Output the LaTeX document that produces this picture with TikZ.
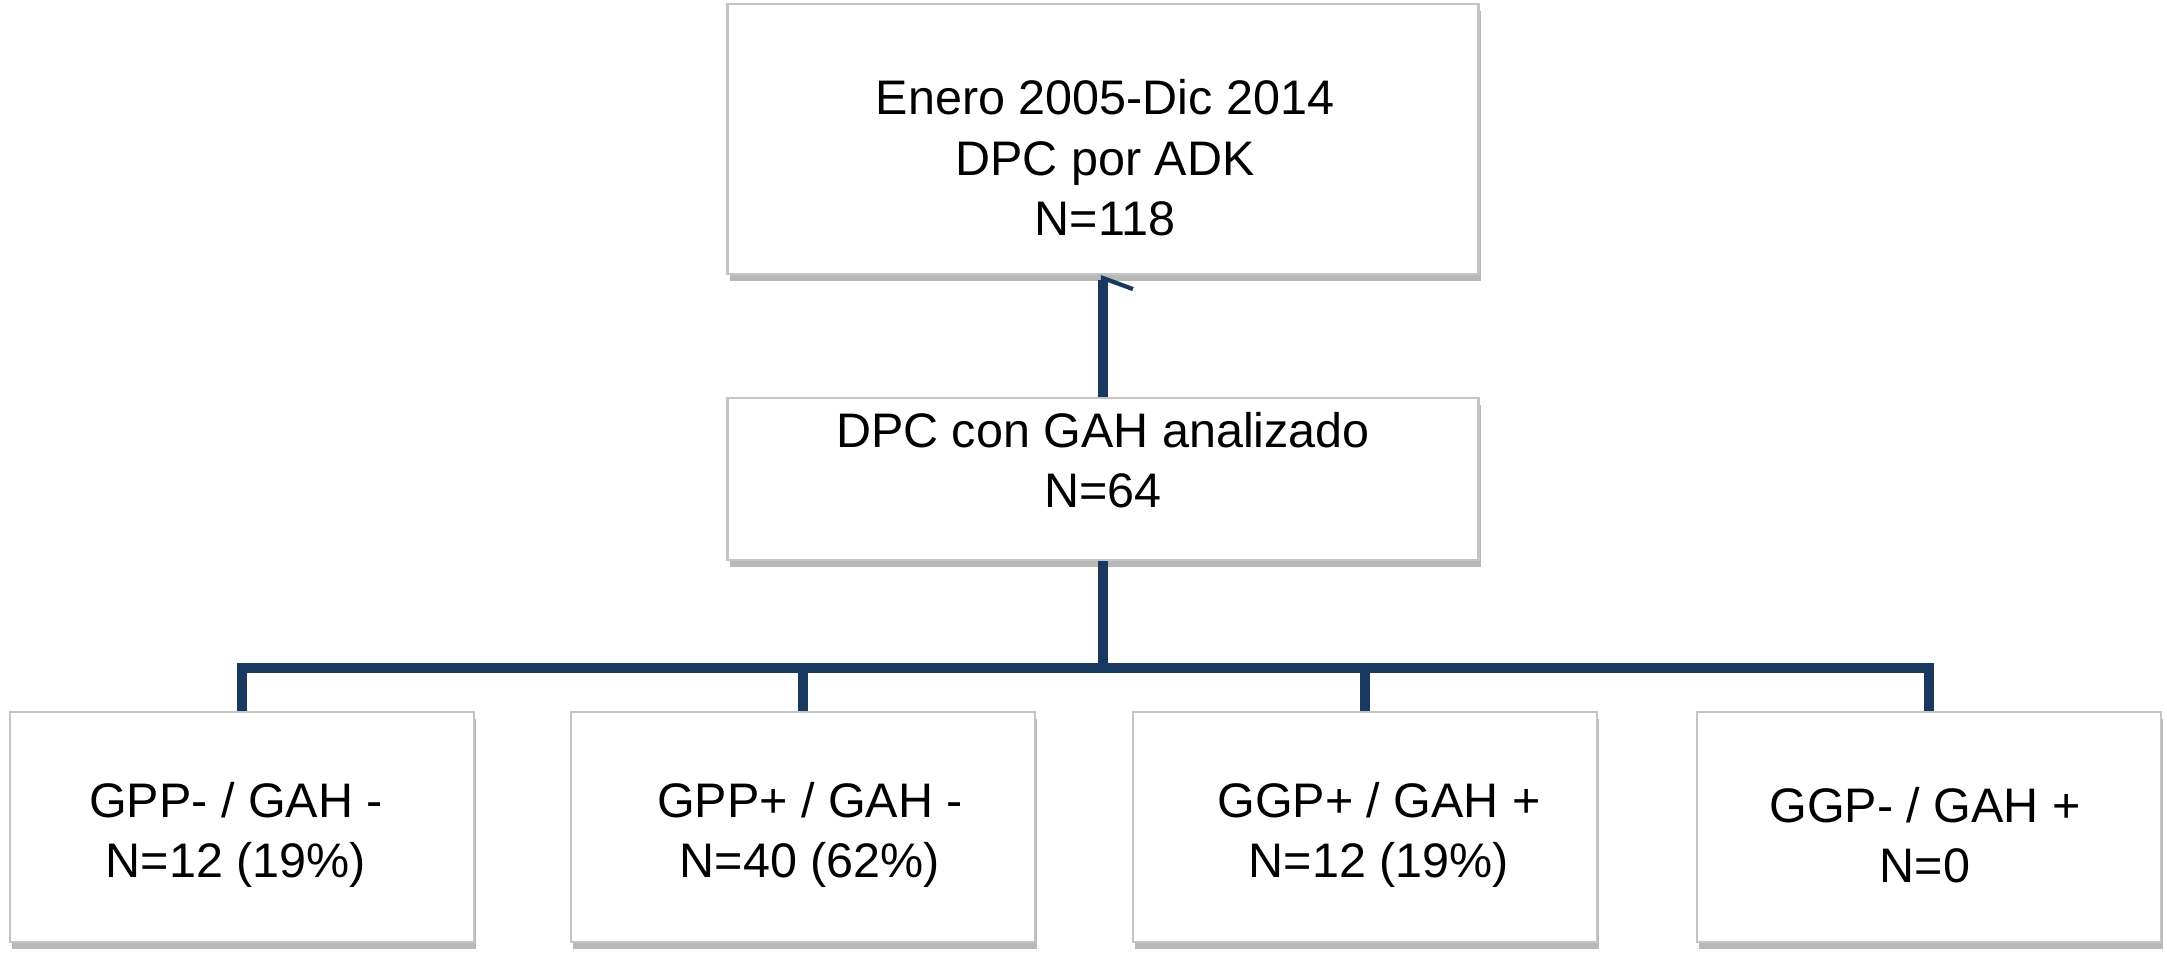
\documentclass[tikz,border=0pt]{standalone}
\usepackage{fontspec}
\setmainfont{Liberation Sans}
\usetikzlibrary{arrows.meta,positioning,shadows}

\definecolor{linkblue}{RGB}{24,56,96}
\definecolor{boxgray}{RGB}{196,196,196}

\begin{document}
\begin{tikzpicture}[
    x=0.1mm, y=-0.1mm,
    font=\fontsize{13.8}{17.2}\selectfont,
    stagebox/.style={
        rectangle,
        draw=boxgray,
        fill=white,
        line width=0.6pt,
        inner sep=0pt,
        drop shadow={shadow xshift=0.2mm, shadow yshift=-0.7mm, fill=black, opacity=0.28}
    },
    groupbox/.style={
        stagebox,
        minimum width=46.4mm,
        minimum height=23mm
    },
    boxtext/.style={align=center, inner sep=0pt},
    link/.style={line width=2.8pt, draw=linkblue}
]

\useasboundingbox (0,0) rectangle (2167,958);

\node[stagebox, minimum width=75.1mm, minimum height=27mm] (period) at (1103,139) {};
\node[boxtext] (periodtext) at (1105,158) {Enero 2005-Dic 2014\\DPC por ADK\\N=118};
\node[stagebox, minimum width=75.1mm, minimum height=16.2mm] (analysed) at (1103,479) {};
\node[boxtext] (analysedtext) at (1103,460) {DPC con GAH analizado\\N=64};

\node[groupbox] (g1) at (242,827) {};
\node[groupbox] (g2) at (803,827) {};
\node[groupbox] (g3) at (1365,827) {};
\node[groupbox] (g4) at (1929,827) {};
\node[boxtext] (g1text) at (236,835) {GPP- / GAH -\\N=12 (19\%)};
\node[boxtext] (g2text) at (810,835) {GPP+ / GAH -\\N=40 (62\%)};
\node[boxtext] (g3text) at (1379,835) {GGP+ / GAH +\\N=12 (19\%)};
\node[boxtext] (g4text) at (1925,835) {GGP- / GAH +\\N=0};

\coordinate (bus) at (analysed.south |- 0,668);

\draw[link, -{Straight Barb[right, length=1.1mm, width=6mm, line width'=1.2pt]}]
    (analysed.north) -- (period.south);
\draw[link] (analysed.south) -- (bus);
\draw[link] (g1.north) |- (bus) -| (g4.north);
\draw[link] (g2.north) |- (bus);
\draw[link] (g3.north) |- (bus);

\end{tikzpicture}
\end{document}
